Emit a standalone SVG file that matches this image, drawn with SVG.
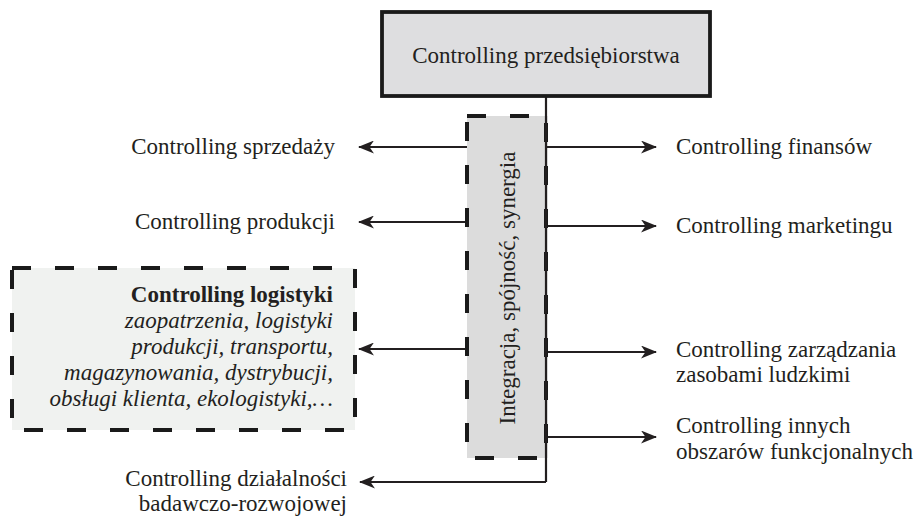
<svg xmlns="http://www.w3.org/2000/svg" width="916" height="517" viewBox="0 0 916 517">
  <style>
    text { font-family: "Liberation Serif", "Times New Roman", serif; font-size: 23px; fill: #231f20; }
    .end { text-anchor: end; }
    .mid { text-anchor: middle; }
    .conn { stroke: #231f20; stroke-width: 2.2; fill: none; }
    .dash { stroke: #1a1a1a; stroke-width: 4; stroke-dasharray: 19 24; }
    .it { font-style: italic; }
    .b { font-weight: bold; }
  </style>
  <defs>
    <marker id="arr" markerUnits="userSpaceOnUse" viewBox="0 0 16 13" refX="15" refY="6.5" markerWidth="16" markerHeight="13" orient="auto">
      <path d="M0,0 L16,6.5 L0,13 L4.5,6.5 z" fill="#231f20"/>
    </marker>
  </defs>
  <rect width="916" height="517" fill="#ffffff"/>

  <g id="node-left-logistics">
    <rect x="12" y="268" width="343" height="162" fill="#f0f2f0" class="dash"/>
    <text class="end b" x="333" y="302">Controlling logistyki</text>
    <text class="end it" x="333" y="328">zaopatrzenia, logistyki</text>
    <text class="end it" x="333" y="354">produkcji, transportu,</text>
    <text class="end it" x="333" y="380">magazynowania, dystrybucji,</text>
    <text class="end it" x="333" y="406">obsługi klienta, ekologistyki,…</text>
  </g>

  <g id="connectors">
    <line class="conn" x1="546" y1="97" x2="546" y2="482"/>
    <polyline class="conn" points="546,482 360,482" marker-end="url(#arr)"/>
    <line class="conn" x1="467" y1="147" x2="359" y2="147" marker-end="url(#arr)"/>
    <line class="conn" x1="467" y1="222" x2="359" y2="222" marker-end="url(#arr)"/>
    <line class="conn" x1="467" y1="349" x2="359" y2="349" marker-end="url(#arr)"/>
    <line class="conn" x1="546" y1="147" x2="656" y2="147" marker-end="url(#arr)"/>
    <line class="conn" x1="546" y1="226" x2="656" y2="226" marker-end="url(#arr)"/>
    <line class="conn" x1="546" y1="352" x2="656" y2="352" marker-end="url(#arr)"/>
    <line class="conn" x1="546" y1="437" x2="656" y2="437" marker-end="url(#arr)"/>
  </g>

  <g id="node-integration">
    <rect x="467" y="116" width="79" height="342" fill="#dcdcdc" class="dash"/>
    <line class="conn" x1="546" y1="116" x2="546" y2="458"/>
    <text class="mid" transform="translate(515,288) rotate(-90)">Integracja, spójność, synergia</text>
  </g>

  <g id="node-top">
    <rect x="382" y="12" width="328" height="84" fill="#dedee0" stroke="#1a1a1a" stroke-width="3.8"/>
    <text class="mid" x="546" y="63">Controlling przedsiębiorstwa</text>
  </g>

  <g id="node-sprzedazy">
    <text class="end" x="335" y="154">Controlling sprzedaży</text>
  </g>
  <g id="node-produkcji">
    <text class="end" x="335" y="229">Controlling produkcji</text>
  </g>
  <g id="node-br">
    <text class="end" x="347" y="486">Controlling działalności</text>
    <text class="end" x="347" y="511">badawczo-rozwojowej</text>
  </g>
  <g id="node-finansow">
    <text x="676" y="154">Controlling finansów</text>
  </g>
  <g id="node-marketingu">
    <text x="676" y="233">Controlling marketingu</text>
  </g>
  <g id="node-hr">
    <text x="676" y="357">Controlling zarządzania</text>
    <text x="676" y="382">zasobami ludzkimi</text>
  </g>
  <g id="node-inne">
    <text x="676" y="433">Controlling innych</text>
    <text x="676" y="459">obszarów funkcjonalnych</text>
  </g>
</svg>
